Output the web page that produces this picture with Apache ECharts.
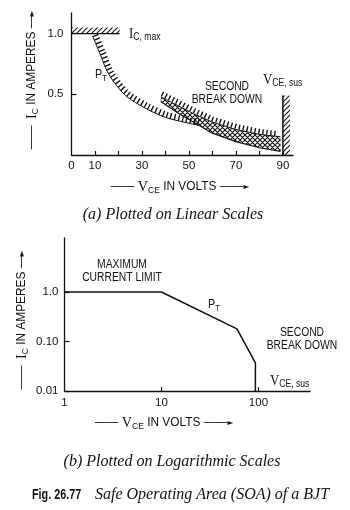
<!DOCTYPE html>
<html><head><meta charset="utf-8">
<script src="https://cdn.jsdelivr.net/npm/echarts@6/dist/echarts.min.js"></script>
<style>html,body{margin:0;padding:0;background:#fff}#c{width:350px;height:510px}</style>
</head><body><div id="c"></div>
<script>
// ---------- (a) linear plot data ----------
const linXLabels = [0, 10, 30, 50, 70, 90];
const linXTicks = [10, 20, 30, 40, 50, 60, 70, 80, 90];
const linYLabels = [0.5, 1.0];
const icMaxV = [0, 20.5];
const icMaxI = [1.0, 1.0];
const icMaxHatch = [[0, 1.0], [20.5, 1.05]];
const ptV = [9, 12, 16, 23, 32, 40, 48, 54];
const ptI = [0.98, 0.84, 0.66, 0.49, 0.38, 0.31, 0.27, 0.245];
const ptCombV = [10.2, 13.2, 17, 23.7, 32.5, 40.3, 48.2, 54.2];
const ptCombI = [0.99, 0.85, 0.675, 0.511, 0.403, 0.334, 0.294, 0.27];
const sbV = [38, 45, 52, 60, 70, 80, 89];
const sbLower = [0.44, 0.35, 0.27, 0.18, 0.11, 0.06, 0.03];
const sbUpper = [0.48, 0.41, 0.34, 0.27, 0.21, 0.17, 0.15];
const sbCombV = [38.5, 45.5, 52.5, 60.3, 70.2, 80.1, 88];
const sbCombI = [0.505, 0.435, 0.365, 0.295, 0.235, 0.195, 0.175];
const susV = [90, 90];
const susI = [0, 0.49];
const susHatch = [[90, 0], [93, 0.49]];
// ---------- (b) logarithmic plot data ----------
const logXLabels = [1, 10, 100];
const logXTicks = [10, 100];
const logYValues = [0.01, 0.1, 1];
const logYLabels = ['0.01', '0.10', '1.0'];
const logV = [1, 10, 60, 93, 93];
const logI = [1.0, 1.0, 0.18, 0.037, 0.01];

const zip = (a, b) => a.map((v, i) => [v, b[i]]);

function pattern(cross) {
  const s = 5, c = document.createElement('canvas');
  c.width = s; c.height = s;
  const g = c.getContext('2d');
  g.strokeStyle = '#111'; g.lineWidth = 1.1;
  g.beginPath();
  g.moveTo(-1, s + 1); g.lineTo(s + 1, -1);
  g.moveTo(-1, 1); g.lineTo(1, -1);
  g.moveTo(s - 1, s + 1); g.lineTo(s + 1, s - 1);
  if (cross) {
    g.moveTo(-1, -1); g.lineTo(s + 1, s + 1);
    g.moveTo(s - 1, -1); g.lineTo(s + 1, 1);
    g.moveTo(-1, s - 1); g.lineTo(1, s + 1);
  }
  g.stroke();
  return { image: c, repeat: 'repeat' };
}
const hatch = pattern(false), crossHatch = pattern(true);

const SANS = "'Liberation Sans', Arial, sans-serif";
const SERIF = "'Liberation Serif', 'Times New Roman', serif";
const INK = '#111';
const rich = {
  n: { fontFamily: SANS, fontSize: 12.5, color: INK, lineHeight: 16 },
  a: { fontFamily: "'DejaVu Sans', sans-serif", fontSize: 8, color: INK, lineHeight: 16 },
  V: { fontFamily: SERIF, fontSize: 15, color: INK, lineHeight: 16 },
  sub: { fontFamily: SANS, fontSize: 9, color: INK, lineHeight: 16, verticalAlign: 'bottom', padding: [5, 0, 0, 0] },
  subS: { fontFamily: SANS, fontSize: 10, color: INK, lineHeight: 16, verticalAlign: 'bottom', padding: [5, 0, 0, 0] }
};

function txt(text, x, y, opt, el) {
  return Object.assign({
    type: 'text', x: x, y: y, silent: true, scaleX: 0.86,
    style: Object.assign({ text: text, fill: INK, font: '12px ' + SANS, align: 'center', verticalAlign: 'middle', rich: rich }, opt || {})
  }, el || {});
}
const yName = '{n|——  }{V|I}{sub|C}{n| IN AMPERES —}{a|►}';
const xName = '{n|—— }{V|V}{sub|CE}{n| IN VOLTS ——}{a|►}';

const axisBase = {
  axisLine: { show: true, lineStyle: { color: INK, width: 1.3 } },
  axisTick: { show: true, inside: true, length: 4, lineStyle: { color: INK, width: 1.2 } },
  splitLine: { show: false },
  axisLabel: { color: INK, fontFamily: SANS, fontSize: 11.5 }
};

const chart = echarts.init(document.getElementById('c'), null, { renderer: 'canvas' });
chart.setOption({
  animation: false,
  backgroundColor: '#fff',
  grid: [
    { left: 71.5, top: 13, width: 221.5, height: 142 },
    { left: 64.5, top: 238, width: 245.5, height: 153 }
  ],
  xAxis: [
    Object.assign({}, axisBase, {
      gridIndex: 0, type: 'value', min: 0, max: 94.3, interval: 10,
      axisTick: Object.assign({}, axisBase.axisTick, { customValues: linXTicks }),
      axisLabel: Object.assign({}, axisBase.axisLabel, { margin: 5, customValues: linXLabels,
        formatter: v => String(v) })
    }),
    Object.assign({}, axisBase, {
      gridIndex: 1, type: 'log', logBase: 10, min: 1, max: 340,
      axisTick: Object.assign({}, axisBase.axisTick, { customValues: logXTicks }),
      axisLabel: Object.assign({}, axisBase.axisLabel, { margin: 6, customValues: logXLabels,
        formatter: v => String(Math.round(v)) })
    })
  ],
  yAxis: [
    Object.assign({}, axisBase, {
      gridIndex: 0, type: 'value', min: 0, max: 1.17, interval: 0.5,
      axisTick: Object.assign({}, axisBase.axisTick, { length: 5, customValues: linYLabels }),
      axisLabel: Object.assign({}, axisBase.axisLabel, { margin: 8, customValues: linYLabels,
        formatter: v => v.toFixed(1) })
    }),
    Object.assign({}, axisBase, {
      gridIndex: 1, type: 'log', logBase: 10, min: 0.01, max: 12.3,
      axisTick: Object.assign({}, axisBase.axisTick, { length: 5, customValues: logYValues }),
      axisLabel: Object.assign({}, axisBase.axisLabel, { margin: 6, customValues: logYValues,
        formatter: v => logYLabels[Math.round(Math.log10(v)) + 2] })
    })
  ],
  series: [
    { type: 'line', xAxisIndex: 0, yAxisIndex: 0, data: zip(icMaxV, icMaxI), symbol: 'none',
      lineStyle: { color: INK, width: 1.4 },
      markArea: { silent: true, itemStyle: { color: hatch }, label: { show: false },
        data: [[{ coord: icMaxHatch[0] }, { coord: icMaxHatch[1] }]] } },
    { type: 'custom', xAxisIndex: 0, yAxisIndex: 0, silent: true,
      data: sbV.map((v, i) => [v, sbLower[i], sbUpper[i]]),
      renderItem: (params, api) => {
        if (params.dataIndex !== 0) return null;
        const up = sbV.map((v, i) => api.coord([v, sbUpper[i]]));
        const lo = sbV.map((v, i) => api.coord([v, sbLower[i]])).reverse();
        return { type: 'polygon', shape: { points: up.concat(lo) }, style: { fill: crossHatch, stroke: null } };
      } },
    { type: 'line', xAxisIndex: 0, yAxisIndex: 0, data: zip(sbV, sbLower), symbol: 'none',
      lineStyle: { color: INK, width: 1.2 } },
    { type: 'line', xAxisIndex: 0, yAxisIndex: 0, data: zip(sbV, sbUpper), symbol: 'none',
      lineStyle: { color: INK, width: 1 } },
    { type: 'line', xAxisIndex: 0, yAxisIndex: 0, data: zip(sbCombV, sbCombI), symbol: 'none',
      lineStyle: { color: INK, width: 5, type: [1.4, 2.6], cap: 'butt' } },
    { type: 'line', xAxisIndex: 0, yAxisIndex: 0, data: zip(ptV, ptI), symbol: 'none', smooth: 0.3,
      lineStyle: { color: INK, width: 1 } },
    { type: 'line', xAxisIndex: 0, yAxisIndex: 0, data: zip(ptCombV, ptCombI), symbol: 'none', smooth: 0.3,
      lineStyle: { color: INK, width: 6, type: [1.4, 2.6], cap: 'butt' } },
    { type: 'line', xAxisIndex: 0, yAxisIndex: 0, data: zip(susV, susI), symbol: 'none',
      lineStyle: { color: INK, width: 1.5 },
      markArea: { silent: true, itemStyle: { color: hatch }, label: { show: false },
        data: [[{ coord: susHatch[0] }, { coord: susHatch[1] }]] } },
    { type: 'line', xAxisIndex: 1, yAxisIndex: 1, data: zip(logV, logI), symbol: 'none',
      lineStyle: { color: INK, width: 1.5 } }
  ],
  graphic: [
    // (a)
    txt(yName, 32, 80, {}, { rotation: Math.PI / 2, scaleX: 0.95 }),
    txt(xName, 180, 187, {}, { scaleX: 0.95 }),
    txt('{V|I}{subS|C, max}', 129, 34, { align: 'left' }),
    txt('{n|P}{sub|T}', 95, 75, { align: 'left' }),
    txt('SECOND', 227, 87),
    txt('BREAK DOWN', 227, 100),
    txt('{V|V}{subS|CE, sus}', 263, 80, { align: 'left' }),
    txt('(a) Plotted on Linear Scales', 173, 215, { font: 'italic 16px ' + SERIF }, { scaleX: 1 }),
    // (b)
    txt(yName, 22, 320, {}, { rotation: Math.PI / 2, scaleX: 0.95 }),
    txt(xName, 164, 423, {}, { scaleX: 0.95 }),
    txt('MAXIMUM', 122, 265),
    txt('CURRENT LIMIT', 122, 278),
    txt('{n|P}{sub|T}', 208, 305, { align: 'left' }),
    txt('SECOND', 302, 333),
    txt('BREAK DOWN', 302, 346),
    txt('{V|V}{subS|CE, sus}', 270, 381, { align: 'left' }),
    txt('(b) Plotted on Logarithmic Scales', 172, 462, { font: 'italic 16px ' + SERIF }, { scaleX: 1 }),
    txt('Fig. 26.77', 32, 495, { align: 'left', font: 'bold 15px ' + SANS }, { scaleX: 0.72 }),
    txt('Safe Operating Area (SOA) of a BJT', 95, 495, { align: 'left', font: 'italic 16px ' + SERIF }, { scaleX: 1 })
  ]
});
</script>
</body></html>
